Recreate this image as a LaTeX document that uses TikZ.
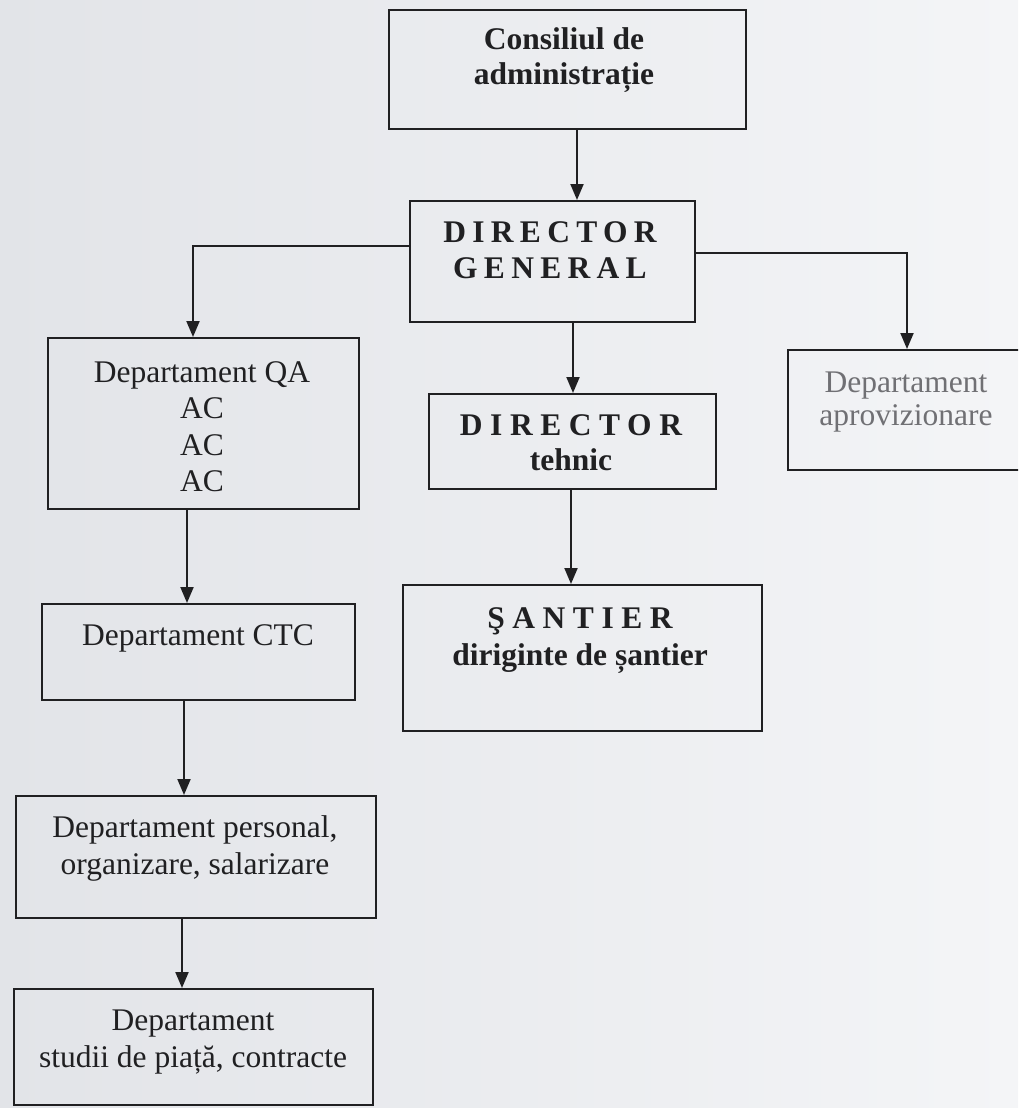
\documentclass[tikz,border=0pt]{standalone}
\usepackage{fontspec}
\setmainfont{Liberation Serif}
\usetikzlibrary{arrows.meta}
\definecolor{ink}{RGB}{32,32,34}
\definecolor{bgL}{RGB}{226,228,232}
\definecolor{bgR}{RGB}{244,245,247}
\definecolor{faded}{RGB}{112,112,116}
\begin{document}
\begin{tikzpicture}[x=1pt,y=-1pt,
  box/.style={draw=ink, line width=2pt, rectangle, inner sep=0pt, anchor=north west},
  txt/.style={anchor=base, inner sep=0pt, text=ink, font=\fontsize{31.5}{36}\selectfont},
  arr/.style={draw=ink, line width=2pt, -{Triangle[width=13pt,length=16pt]}},
  spaced/.style={font=\fontsize{31.5}{36}\selectfont\bfseries\addfontfeatures{LetterSpace=#1}}]
\useasboundingbox (0,0) rectangle (1018,1108);
\fill[left color=bgL, right color=bgR] (0,0) rectangle (1018,1108);
\clip (0,0) rectangle (1018,1108);

% boxes
\node[box, minimum width=357pt, minimum height=119pt] (cons) at (388,9) {};
\node[box, minimum width=285pt, minimum height=121pt] (dg) at (409,200) {};
\node[box, minimum width=311pt, minimum height=171pt] (qa) at (47,337) {};
\node[box, minimum width=287pt, minimum height=95pt] (dt) at (428,393) {};
\node[box, minimum width=250pt, minimum height=120pt] (apr) at (787,349) {};
\node[box, minimum width=359pt, minimum height=146pt] (sant) at (402,584) {};
\node[box, minimum width=313pt, minimum height=96pt] (ctc) at (41,603) {};
\node[box, minimum width=360pt, minimum height=122pt] (pers) at (15,795) {};
\node[box, minimum width=359pt, minimum height=116pt] (stud) at (13,988) {};

% texts
\node[txt, font=\fontsize{31.5}{35}\selectfont\bfseries] (consT) at (564,50)
  {\begin{tabular}[t]{@{}c@{}}Consiliul de\\ administrație\end{tabular}};
\node[txt, spaced=20] (dgT) at (550,242)
  {\begin{tabular}[t]{@{}c@{}}DIRECTOR\\ GENERAL\end{tabular}};
\node[txt, font=\fontsize{31.5}{35}\selectfont\bfseries] (dtT) at (571,435)
  {\begin{tabular}[t]{@{}c@{}}{\addfontfeatures{LetterSpace=24}DIRECTOR}\\ tehnic\end{tabular}};
\node[txt, font=\fontsize{31.5}{37}\selectfont\bfseries] (santT) at (580,628)
  {\begin{tabular}[t]{@{}c@{}}{\addfontfeatures{LetterSpace=24}ŞANTIER}\\ diriginte de șantier\end{tabular}};
\node[txt, font=\fontsize{31.5}{36.5}\selectfont] (qaT) at (202,382)
  {\begin{tabular}[t]{@{}c@{}}Departament QA\\ AC\\ AC\\ AC\end{tabular}};
\node[txt, text=faded, font=\fontsize{31.5}{33}\selectfont] (aprT) at (906,392)
  {\begin{tabular}[t]{@{}c@{}}Departament\\ aprovizionare\end{tabular}};
\node[txt] (ctcT) at (198,645) {Departament CTC};
\node[txt, font=\fontsize{31.5}{37}\selectfont] (persT) at (195,837)
  {\begin{tabular}[t]{@{}c@{}}Departament personal,\\ organizare, salarizare\end{tabular}};
\node[txt, font=\fontsize{31.5}{37}\selectfont] (studT) at (193,1030)
  {\begin{tabular}[t]{@{}c@{}}Departament\\ studii de piață, contracte\end{tabular}};

% connector guides
\coordinate (x1) at (577,0);
\coordinate (k1) at (193,246);
\coordinate (k2) at (907,253);
\coordinate (x4) at (573,0);
\coordinate (x5) at (571,0);
\coordinate (x6) at (187,0);
\coordinate (x7) at (184,0);
\coordinate (x8) at (182,0);

% connectors
\draw[arr] (cons.south -| x1) -- (dg.north -| x1);
\draw[arr] (k1 -| dg.west) -- (k1) -- (k1 |- qa.north);
\draw[arr] (k2 -| dg.east) -- (k2) -- (k2 |- apr.north);
\draw[arr] (dg.south -| x4) -- (dt.north -| x4);
\draw[arr] (dt.south -| x5) -- (sant.north -| x5);
\draw[arr] (qa.south -| x6) -- (ctc.north -| x6);
\draw[arr] (ctc.south -| x7) -- (pers.north -| x7);
\draw[arr] (pers.south -| x8) -- (stud.north -| x8);
\end{tikzpicture}
\end{document}
